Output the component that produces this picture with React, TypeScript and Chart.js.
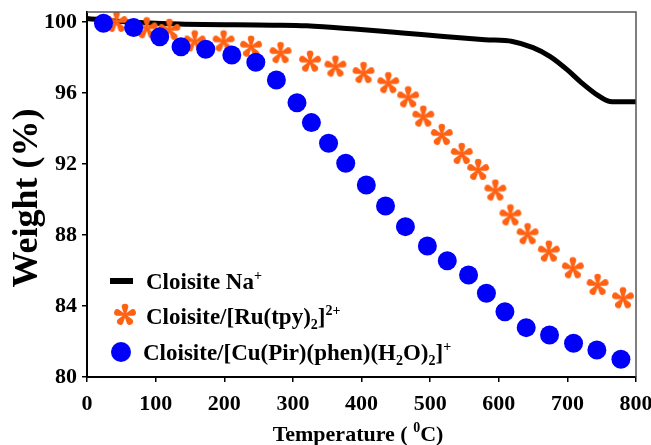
import { useEffect, useRef } from "react";
import { Chart, registerables } from "chart.js";

Chart.register(...registerables);

// Cloisite Na+ (continuous line)
const naTemps = [0, 40, 135, 270, 320, 390, 460, 520, 580, 620, 650, 675, 700, 720, 745, 762, 780, 800];
const naWeights = [100.2, 100.05, 99.88, 99.82, 99.78, 99.6, 99.38, 99.18, 99.0, 98.9, 98.55, 98.05, 97.3, 96.6, 95.85, 95.52, 95.5, 95.5];

// Cloisite/[Ru(tpy)2]2+ (orange stars)
const ruTemps = [43, 87, 120, 157, 199, 239, 282, 325, 362, 403, 439, 468, 490, 517, 546, 570, 595, 617, 642, 673, 708, 744, 781];
const ruWeights = [100.0, 99.64, 99.55, 98.9, 98.9, 98.6, 98.24, 97.76, 97.48, 97.12, 96.55, 95.75, 94.66, 93.63, 92.56, 91.66, 90.5, 89.1, 88.04, 87.06, 86.12, 85.18, 84.43];

// Cloisite/[Cu(Pir)(phen)(H2O)2]+ (blue dots)
const cuTemps = [24, 68, 106, 137, 173, 211, 246, 276, 306, 327, 352, 377, 407, 435, 464, 496, 525, 556, 582, 609, 640, 674, 709, 743, 778];
const cuWeights = [99.93, 99.68, 99.17, 98.6, 98.46, 98.14, 97.73, 96.73, 95.45, 94.33, 93.17, 92.04, 90.82, 89.63, 88.47, 87.38, 86.55, 85.75, 84.72, 83.68, 82.78, 82.37, 81.9, 81.52, 81.0];

const xTicks = [0, 100, 200, 300, 400, 500, 600, 700, 800];
const yTicks = [80, 84, 88, 92, 96, 100];

type Seg = { t: string; k?: "sup" | "sub" };
const legendNa: Seg[] = [{ t: "Cloisite Na" }, { t: "+", k: "sup" }];
const legendRu: Seg[] = [{ t: "Cloisite/[Ru(tpy)" }, { t: "2", k: "sub" }, { t: "]" }, { t: "2+", k: "sup" }];
const legendCu: Seg[] = [
  { t: "Cloisite/[Cu(Pir)(phen)(H" },
  { t: "2", k: "sub" },
  { t: "O)" },
  { t: "2", k: "sub" },
  { t: "]" },
  { t: "+", k: "sup" },
];
const xTitle: Seg[] = [{ t: "Temperature ( " }, { t: "0", k: "sup" }, { t: "C)" }];
const yTitle = "Weight (%)";

const FONT = '"Liberation Serif", "Times New Roman", serif';
const ORANGE = "#FF6112";
const BLUE = "#0000FA";

function drawRich(ctx: CanvasRenderingContext2D, segs: Seg[], x: number, y: number, size: number, align: "left" | "center") {
  const fontOf = (k?: string) => `bold ${k ? Math.round(size * 0.62) : size}px ${FONT}`;
  let total = 0;
  for (const s of segs) {
    ctx.font = fontOf(s.k);
    total += ctx.measureText(s.t).width;
  }
  let cx = align === "center" ? x - total / 2 : x;
  ctx.textBaseline = "alphabetic";
  ctx.textAlign = "left";
  ctx.fillStyle = "#000";
  for (const s of segs) {
    ctx.font = fontOf(s.k);
    const dy = s.k === "sup" ? -size * 0.4 : s.k === "sub" ? size * 0.22 : 0;
    ctx.fillText(s.t, cx, y + dy);
    cx += ctx.measureText(s.t).width;
  }
}

function makeStar(size: number, color: string): HTMLCanvasElement {
  const c = document.createElement("canvas");
  c.width = size;
  c.height = size;
  const ctx = c.getContext("2d")!;
  const r = size / 2;
  ctx.translate(r, r);
  ctx.fillStyle = color;
  for (let i = 0; i < 5; i++) {
    const a = -Math.PI / 2 + (i * 2 * Math.PI) / 5;
    ctx.save();
    ctx.rotate(a);
    ctx.beginPath();
    ctx.moveTo(0, -r * 0.07);
    ctx.lineTo(r * 0.64, -r * 0.27);
    ctx.arc(r * 0.66, 0, r * 0.28, -Math.PI / 2, Math.PI / 2);
    ctx.lineTo(0, r * 0.07);
    ctx.closePath();
    ctx.fill();
    ctx.restore();
  }
  ctx.beginPath();
  ctx.arc(0, 0, r * 0.14, 0, Math.PI * 2);
  ctx.fill();
  return c;
}

export default function App() {
  const ref = useRef<HTMLCanvasElement>(null);
  useEffect(() => {
    const canvas = ref.current!;
    const star = makeStar(24, ORANGE);

    const decor = {
      id: "decor",
      afterDraw(chart: any) {
        const ctx: CanvasRenderingContext2D = chart.ctx;
        const a = chart.chartArea;
        ctx.save();
        // top and right frame
        ctx.strokeStyle = "#555";
        ctx.lineWidth = 1.5;
        ctx.beginPath();
        ctx.moveTo(a.left, a.top);
        ctx.lineTo(a.right, a.top);
        ctx.lineTo(a.right, a.bottom);
        ctx.stroke();

        // y title
        ctx.save();
        ctx.translate(28, 198);
        ctx.rotate(-Math.PI / 2);
        ctx.font = `bold 36px ${FONT}`;
        ctx.fillStyle = "#000";
        ctx.textAlign = "center";
        ctx.textBaseline = "middle";
        ctx.fillText(yTitle, 0, 0);
        ctx.restore();

        // x title
        drawRich(ctx, xTitle, 358, 441, 22, "center");

        // legend
        ctx.fillStyle = "#000";
        ctx.fillRect(110, 278, 23, 6);
        drawRich(ctx, legendNa, 146, 289, 23, "left");
        ctx.drawImage(star, 125 - 12, 315 - 12);
        drawRich(ctx, legendRu, 146, 324, 23, "left");
        ctx.fillStyle = BLUE;
        ctx.beginPath();
        ctx.arc(121, 352, 10, 0, Math.PI * 2);
        ctx.fill();
        drawRich(ctx, legendCu, 143, 360, 23, "left");
        ctx.restore();
      },
    };

    const tickFont = { family: FONT, size: 22, weight: "bold" as const };

    const chart = new Chart(canvas, {
      type: "line",
      data: {
        datasets: [
          {
            label: "Cloisite/[Cu(Pir)(phen)(H2O)2]+",
            data: cuTemps.map((x, i) => ({ x, y: cuWeights[i] })),
            showLine: false,
            pointRadius: 9.5,
            pointBackgroundColor: BLUE,
            pointBorderWidth: 0,
            order: 0,
          },
          {
            label: "Cloisite/[Ru(tpy)2]2+",
            data: ruTemps.map((x, i) => ({ x, y: ruWeights[i] })),
            showLine: false,
            pointRadius: 10,
            pointStyle: star as any,
            order: 1,
          },
          {
            label: "Cloisite Na+",
            data: naTemps.map((x, i) => ({ x, y: naWeights[i] })),
            borderColor: "#000",
            borderWidth: 5,
            pointRadius: 0,
            tension: 0.35,
            cubicInterpolationMode: "monotone",
            order: 2,
          },
        ],
      },
      options: {
        responsive: false,
        animation: false,
        events: [],
        layout: { padding: { left: 0, right: 15, top: 12, bottom: 0 } },
        plugins: { legend: { display: false }, tooltip: { enabled: false } },
        scales: {
          x: {
            type: "linear",
            min: 0,
            max: 800,
            afterFit: (s: any) => {
              s.height = 68;
              s.paddingLeft = 0;
              s.paddingRight = 0;
            },
            afterBuildTicks: (s: any) => {
              s.ticks = xTicks.map((v) => ({ value: v }));
            },
            ticks: { font: tickFont, color: "#000", padding: 9, maxRotation: 0, autoSkip: false },
            grid: { drawOnChartArea: false, drawTicks: true, tickLength: 5, color: "#000", lineWidth: 1.5 },
            border: { display: true, color: "#000", width: 2 },
          },
          y: {
            type: "linear",
            min: 80,
            max: 100.56,
            afterFit: (s: any) => {
              s.width = 87;
              s.paddingTop = 0;
              s.paddingBottom = 0;
            },
            afterBuildTicks: (s: any) => {
              s.ticks = yTicks.map((v) => ({ value: v }));
            },
            ticks: { font: tickFont, color: "#000", padding: 5, autoSkip: false },
            grid: { drawOnChartArea: false, drawTicks: true, tickLength: 5, color: "#000", lineWidth: 1.5 },
            border: { display: true, color: "#000", width: 2 },
          },
        },
      },
      plugins: [decor],
    });
    return () => chart.destroy();
  }, []);
  return (
    <div style={{ position: "fixed", left: 0, top: 0, width: 651, height: 445, background: "#fff" }}>
      <canvas ref={ref} width={651} height={445} style={{ display: "block", width: 651, height: 445 }} />
    </div>
  );
}
